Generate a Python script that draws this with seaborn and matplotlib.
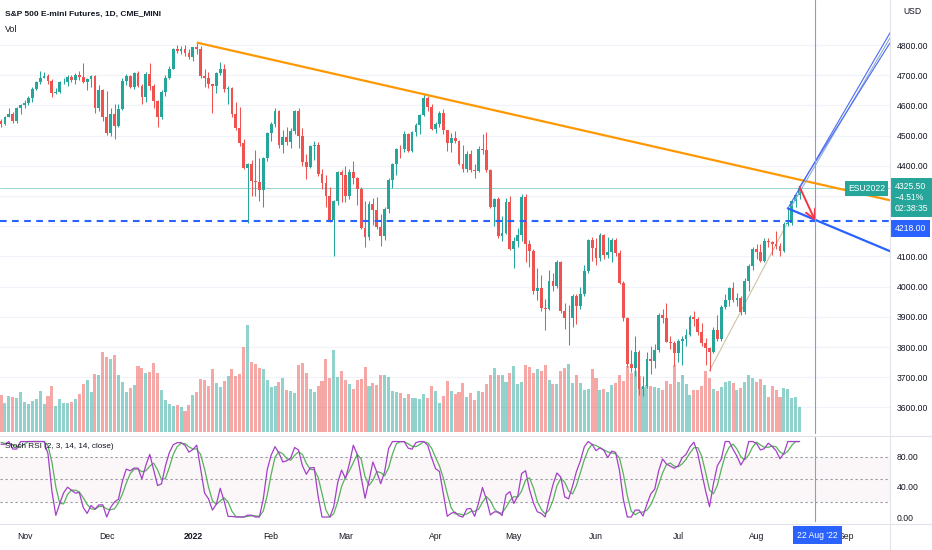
import numpy as np
import pandas as pd
import matplotlib
matplotlib.use("Agg")
import matplotlib.pyplot as plt
import matplotlib.transforms as mtransforms
from matplotlib.lines import Line2D
import seaborn as sns

# ---- data (ES continuous, daily, 22 Oct 2021 - 16 Aug 2022) ----
holidays = ["2021-11-25", "2021-12-24", "2022-01-17", "2022-02-21", "2022-04-15",
            "2022-05-30", "2022-06-20", "2022-07-04", "2022-09-05"]

first_open = 4548

closes = [
    4540, 4562, 4570, 4547, 4592, 4600,
    4608, 4625, 4655, 4676, 4692, 4697, 4680, 4641, 4644, 4677,
    4677, 4695, 4683, 4700, 4693, 4677, 4686, 4697, 4590, 4650,
    4562,
    4508, 4572, 4533, 4587, 4681, 4696, 4662, 4707, 4664, 4629,
    4705, 4664, 4615, 4563, 4644, 4692, 4721, 4786, 4781, 4788,
    4773, 4761,
    4792, 4788, 4696, 4690, 4670, 4665, 4708, 4720, 4655, 4657,
    4570, 4526, 4477, 4393, 4405, 4350, 4345, 4320, 4425, 4510,
    4540, 4583, 4470, 4495, 4478, 4516, 4581, 4498, 4412, 4396,
    4466, 4470, 4374, 4343, 4299, 4220, 4282, 4379, 4368,
    4300, 4381, 4358, 4323, 4195, 4165, 4272, 4254, 4198, 4167,
    4256, 4352, 4405, 4456, 4455, 4505, 4450, 4513, 4536, 4568,
    4625, 4595, 4523,
    4540, 4576, 4518, 4474, 4493, 4481, 4406, 4390, 4440, 4385,
    4384, 4456, 4453, 4387, 4265, 4290, 4168, 4176, 4281, 4126,
    4150, 4170, 4296, 4142, 4118, 3986, 3996, 3930, 3925, 4019,
    4003, 4083, 3918, 3896, 3896, 3969, 3936, 3974, 4053, 4153,
    4127,
    4096, 4172, 4104, 4116, 4156, 4111, 4013, 3896, 3745, 3730,
    3785, 3662, 3670, 3760, 3755, 3791, 3907, 3896, 3817, 3814,
    3780,
    3820, 3828, 3840, 3898, 3894, 3850, 3814, 3797, 3785, 3858,
    3826, 3932, 3955, 3994, 3957, 3962, 3916, 4019, 4068, 4125,
    4114, 4086, 4150, 4147, 4140, 4135, 4117, 4207, 4212, 4283,
    4302, 4325.5,
]

highs = [
    4556, 4566, 4592, 4578, 4594, 4603,
    4618, 4630, 4662, 4682, 4713, 4709, 4705, 4688, 4658, 4681,
    4692, 4701, 4700, 4706, 4714, 4740, 4692, 4700, 4700, 4668,
    4655,
    4648, 4590, 4604, 4605, 4690, 4705, 4702, 4710, 4715, 4670,
    4710, 4740, 4670, 4618, 4650, 4700, 4730, 4790, 4800, 4798,
    4800, 4786,
    4795, 4808, 4796, 4720, 4710, 4672, 4712, 4744, 4737, 4665,
    4662, 4610, 4595, 4488, 4410, 4420, 4451, 4427, 4430, 4512,
    4545, 4592, 4586, 4518, 4530, 4525, 4586, 4590, 4525, 4440,
    4470, 4482, 4478, 4388, 4368, 4330, 4288, 4382, 4385,
    4400, 4390, 4415, 4363, 4330, 4285, 4285, 4295, 4298, 4240,
    4265, 4360, 4408, 4460, 4470, 4515, 4510, 4516, 4542, 4573,
    4637, 4630, 4605,
    4546, 4582, 4587, 4520, 4510, 4515, 4485, 4468, 4450, 4452,
    4405, 4465, 4505, 4512, 4390, 4295, 4298, 4235, 4295, 4300,
    4165, 4195, 4306, 4305, 4155, 4125, 4060, 4040, 3960, 4055,
    4045, 4088, 4085, 3945, 3940, 3975, 3975, 4000, 4070, 4158,
    4165,
    4160, 4178, 4175, 4165, 4162, 4160, 4120, 4020, 3900, 3790,
    3835, 3790, 3705, 3785, 3805, 3810, 3913, 3927, 3945, 3838,
    3820,
    3828, 3835, 3860, 3905, 3920, 3900, 3880, 3830, 3800, 3866,
    3905, 3940, 3975, 3998, 4015, 3978, 3970, 4030, 4075, 4132,
    4140, 4140, 4160, 4160, 4150, 4185, 4145, 4215, 4260, 4285,
    4308, 4330,
]

lows = [
    4527, 4535, 4560, 4543, 4543, 4570,
    4592, 4600, 4612, 4650, 4672, 4690, 4672, 4628, 4637, 4640,
    4670, 4665, 4678, 4670, 4685, 4673, 4650, 4660, 4575, 4580,
    4550,
    4502, 4498, 4490, 4530, 4585, 4666, 4658, 4655, 4660, 4605,
    4612, 4650, 4590, 4530, 4555, 4630, 4688, 4720, 4775, 4770,
    4765, 4752,
    4748, 4770, 4690, 4660, 4656, 4575, 4640, 4700, 4645, 4605,
    4560, 4520, 4465, 4390, 4212, 4300, 4300, 4282, 4262, 4415,
    4482, 4530, 4460, 4442, 4468, 4458, 4505, 4460, 4400, 4355,
    4392, 4420, 4365, 4322, 4265, 4215, 4101, 4270, 4280,
    4280, 4290, 4340, 4270, 4190, 4130, 4155, 4205, 4190, 4135,
    4155, 4245, 4328, 4370, 4425, 4445, 4445, 4445, 4500, 4505,
    4565, 4580, 4520,
    4508, 4530, 4505, 4448, 4445, 4475, 4402, 4380, 4380, 4380,
    4360, 4380, 4440, 4380, 4260, 4200, 4162, 4150, 4175, 4120,
    4060, 4130, 4150, 4080, 4065, 3975, 3955, 3920, 3855, 3922,
    3985, 3995, 3912, 3860, 3807, 3865, 3875, 3925, 3970, 4045,
    4085,
    4073, 4085, 4090, 4095, 4080, 4100, 4010, 3885, 3735, 3718,
    3705, 3642, 3639, 3665, 3710, 3732, 3785, 3880, 3815, 3795,
    3738,
    3752, 3740, 3805, 3835, 3870, 3840, 3805, 3742, 3722, 3780,
    3820, 3820, 3925, 3935, 3950, 3935, 3905, 3910, 3985, 4055,
    4092, 4080, 4080, 4130, 4105, 4125, 4100, 4115, 4202, 4205,
    4265, 4290,
]

# volume, tens of thousands of contracts
volume = [
    113, 88, 108, 107, 102, 122, 91, 84, 93, 99,
    123, 86, 110, 138, 79, 99, 89, 89, 91, 99,
    116, 144, 158, 120, 176, 171, 241, 226, 219, 232,
    171, 150, 121, 134, 141, 200, 193, 178, 182, 208,
    178, 128, 96, 84, 78, 82, 76, 65, 82, 113,
    120, 159, 158, 138, 189, 148, 135, 155, 170, 191,
    169, 174, 255, 323, 210, 204, 194, 191, 156, 137,
    138, 151, 164, 128, 123, 118, 203, 209, 179, 130,
    122, 138, 154, 219, 163, 247, 165, 185, 158, 145,
    131, 156, 161, 197, 140, 148, 143, 173, 173, 167,
    123, 120,
    117, 104, 115, 104, 104, 101, 115, 103, 140, 123,
    89, 110, 153, 123, 116, 122, 148, 106, 119, 97,
    125, 122, 145, 173, 192, 171, 171, 152, 179, 200,
    146, 152, 202, 197, 179, 190, 183, 202, 158, 144,
    146, 185, 194, 204, 148, 172, 147, 128, 131, 189,
    162, 128, 129, 122, 143, 147, 171, 155, 199, 178,
    185, 170, 135, 141, 139, 136, 133, 128, 153, 145,
    202, 150, 172, 145, 113, 126, 126, 138, 183, 162,
    130, 123, 137, 150, 154, 148, 128, 134, 150, 171,
    163, 150, 160, 143, 106, 140, 126, 107, 132, 131,
    103, 107, 77,
]

# closes before the visible window, only used to warm up the Stoch RSI
warmup_close = [4524, 4537, 4535, 4520, 4514, 4493, 4459, 4468, 4443, 4480,
                4473, 4433, 4358, 4354, 4395, 4448, 4455, 4443, 4352, 4359,
                4307, 4357, 4300, 4345, 4363, 4399, 4391, 4361, 4350, 4363,
                4438, 4471, 4486, 4519, 4536, 4549]

# drawings on the chart: (date, price) anchors
orange_trend = [("2022-01-04", 4808), ("2022-03-29", 4637)]
blue_ray = [("2022-08-11", 4259), ("2022-08-22", 4221)]
channel = [[("2022-08-11", 4259), ("2022-09-19", 4838)],
           [("2022-08-12", 4268), ("2022-09-19", 4821)],
           [("2022-08-16", 4330), ("2022-09-19", 4805)]]
support_line = [("2022-07-14", 3722), ("2022-08-11", 4214)]
red_arrow = [("2022-08-16", 4330), ("2022-08-22", 4218)]
level_price = 4218
cursor_date = "2022-08-22"

month_labels = ["Nov", "Dec", "2022", "Feb", "Mar", "Apr", "May", "Jun", "Jul", "Aug", "Sep"]
month_starts = ["2021-11-01", "2021-12-01", "2022-01-01", "2022-02-01", "2022-03-01", "2022-04-01",
                "2022-05-01", "2022-06-01", "2022-07-01", "2022-08-01", "2022-09-01"]

UP, DOWN = "#26a69a", "#ef5350"
TEXT = "#131722"
FS = 6.2

# ---- trading-day index ----
days = pd.bdate_range("2021-10-22", "2022-10-31")
days = days[~days.isin(pd.to_datetime(holidays))]
n = len(closes)
x = np.arange(n)


def pos(d):
    return int(np.searchsorted(days, pd.Timestamp(d)))


c = np.array(closes, dtype=float)
o = np.r_[first_open, c[:-1]]
h = np.maximum(np.array(highs, dtype=float), np.maximum(o, c))
l = np.minimum(np.array(lows, dtype=float), np.minimum(o, c))
up = c >= o


def stoch_rsi(close, k_len=2, d_len=3, rsi_len=14, st_len=14):
    s = pd.Series(close, dtype=float)
    delta = s.diff()
    gain = delta.clip(lower=0).ewm(alpha=1 / rsi_len, adjust=False).mean()
    loss = (-delta.clip(upper=0)).ewm(alpha=1 / rsi_len, adjust=False).mean()
    rsi = 100 - 100 / (1 + gain / loss)
    lo = rsi.rolling(st_len).min()
    hi = rsi.rolling(st_len).max()
    st = (rsi - lo) / (hi - lo) * 100
    k = st.rolling(k_len).mean()
    d = k.rolling(d_len).mean()
    return k.values, d.values


k_all, d_all = stoch_rsi(warmup_close + closes)
k_line, d_line = k_all[-n:], d_all[-n:]

# ---- figure ----
sns.set_theme(style="white")
plt.rcParams["font.family"] = ["Liberation Sans", "DejaVu Sans"]

W, H = 932, 550
fig = plt.figure(figsize=(W / 100, H / 100), dpi=100)
fig.patch.set_facecolor("white")
ax = fig.add_axes([0, (H - 434) / H, 890 / W, 434 / H])
axs = fig.add_axes([0, (H - 522) / H, 890 / W, 85 / H])

xmin, xmax = -0.26, 227.1
for a in (ax, axs):
    a.set_xlim(xmin, xmax)
    a.set_facecolor("none")
    for sp in a.spines.values():
        sp.set_visible(False)
ax.set_ylim(3512, 4949)
axs.set_ylim(-6.6, 106)

# grid
for p in range(3600, 4900, 100):
    ax.axhline(p, color="#f0f3fa", lw=0.9, zorder=0)

# volume overlay in the bottom of the price pane
vol_tr = mtransforms.blended_transform_factory(ax.transData, ax.transAxes)
vol_frac = np.array(volume) / 1302.0
ax.bar(x, vol_frac, width=0.78, bottom=0.004, transform=vol_tr,
       color=np.where(up, UP, DOWN), alpha=0.5, lw=0, zorder=1)

# candles
cols = np.where(up, UP, DOWN)
ax.vlines(x, l, h, colors=cols, lw=0.75, zorder=3)
body = np.maximum(np.abs(c - o), 1.5)
ax.bar(x, body, bottom=np.minimum(o, c), width=0.72, color=cols, lw=0, zorder=3)

# last price line
ax.axhline(c[-1], color=UP, lw=0.6, alpha=0.55, zorder=2)


def ray(p0, p1, extend=True):
    x0, y0 = pos(p0[0]), p0[1]
    x1, y1 = pos(p1[0]), p1[1]
    if extend:
        slope = (y1 - y0) / (x1 - x0)
        x1, y1 = xmax, y0 + slope * (xmax - x0)
    return [x0, x1], [y0, y1]


xs, ys = ray(*orange_trend)
ax.plot(xs, ys, color="#ff9800", lw=1.6, zorder=4, solid_capstyle="butt")
xs, ys = ray(*blue_ray)
ax.plot(xs, ys, color="#2962ff", lw=1.6, zorder=4)
for i, seg in enumerate(channel):
    xs, ys = ray(*seg)
    ax.plot(xs, ys, color="#8fa9d8" if i == 1 else "#4a6cf0", lw=0.8, zorder=4)
xs, ys = ray(*support_line, extend=False)
ax.plot(xs, ys, color="#cfc3a3", lw=0.8, zorder=2)

ax.axhline(level_price, color="#2962ff", lw=1.5, ls=(0, (3.2, 2.6)), zorder=4)

(a0, p0), (a1, p1) = red_arrow
ax.annotate("", xy=(pos(a1), p1), xytext=(pos(a0), p0),
            arrowprops=dict(arrowstyle="->,head_length=0.55,head_width=0.3",
                            color="#f23645", lw=1.4, shrinkA=0, shrinkB=0), zorder=5)

cx = pos(cursor_date)
ax.axvline(cx, color="#7d9bff", lw=0.8, zorder=6)
axs.axvline(cx, color="#7d9bff", lw=0.8, zorder=6)

# price axis
ticks = list(range(3600, 4900, 100))
ax.yaxis.tick_right()
ax.set_yticks(ticks)
ax.set_yticklabels(["" if t in (4200, 4300) else f"{t:.2f}" for t in ticks])
ax.tick_params(axis="y", length=0, pad=5, labelsize=FS, labelcolor=TEXT)
ax.set_xticks([])

ax.annotate("ESU2022", xy=(1, c[-1]), xycoords=("axes fraction", "data"),
            xytext=(-5, 0), textcoords="offset pixels", ha="right", va="center",
            fontsize=FS, color="white", annotation_clip=False, zorder=10,
            bbox=dict(boxstyle="square,pad=0.35", fc=UP, ec="none"))
ax.annotate(f"{c[-1]:.2f}\n\u22124.51%\n02:38:35", xy=(1, c[-1]),
            xycoords=("axes fraction", "data"), xytext=(5, -9), textcoords="offset pixels",
            ha="left", va="center", fontsize=FS, color="white", linespacing=1.3,
            annotation_clip=False, zorder=10,
            bbox=dict(boxstyle="square,pad=0.45", fc=UP, ec="none"))
ax.annotate(f"{level_price:.2f}", xy=(1, level_price), xycoords=("axes fraction", "data"),
            xytext=(5, -8), textcoords="offset pixels", ha="left", va="center",
            fontsize=FS, color="white", annotation_clip=False, zorder=10,
            bbox=dict(boxstyle="square,pad=0.45", fc="#2962ff", ec="none"))

# stoch rsi pane
axs.axhspan(20, 80, color="#f7e9ec", alpha=0.4, lw=0, zorder=0)
for lvl in (80, 50, 20):
    axs.axhline(lvl, color="#9598a1", lw=0.8, ls=(0, (2, 2.5)), zorder=1)
sns.lineplot(x=x, y=k_line, ax=axs, color="#a43fc8", lw=0.9, zorder=3)
sns.lineplot(x=x, y=d_line, ax=axs, color="#57b25c", lw=0.9, zorder=2)
axs.set_ylabel("")
axs.yaxis.tick_right()
axs.set_yticks([0, 40, 80])
axs.set_yticklabels(["0.00", "40.00", "80.00"])
axs.tick_params(axis="y", length=0, pad=5, labelsize=FS, labelcolor=TEXT)

# time axis
axs.set_xticks([pos(d) for d in month_starts])
axs.set_xticklabels(month_labels)
axs.tick_params(axis="x", length=0, pad=7, labelsize=FS, labelcolor=TEXT)
for t in axs.get_xticklabels():
    if t.get_text() == "2022":
        t.set_fontweight("bold")
axs.annotate("22 Aug '22", xy=(cx, 0), xycoords=("data", "axes fraction"),
             xytext=(2, -13), textcoords="offset pixels", ha="center", va="center",
             fontsize=FS, color="white", annotation_clip=False, zorder=10,
             bbox=dict(boxstyle="square,pad=0.5", fc="#2962ff", ec="none"))

# pane borders and legends
fig.add_artist(Line2D([890 / W] * 2, [0, 1], color="#e0e3eb", lw=0.8))
fig.add_artist(Line2D([0, 1], [(H - 435.5) / H] * 2, color="#e0e3eb", lw=0.8))
fig.add_artist(Line2D([0, 1], [(H - 524) / H] * 2, color="#e0e3eb", lw=0.8))
fig.text(5 / W, 1 - 14 / H, "S&P 500 E-mini Futures, 1D, CME_MINI", fontsize=6.0,
         fontweight="bold", color=TEXT, va="center")
fig.text(5 / W, 1 - 30 / H, "Vol", fontsize=6.4, color=TEXT, va="center")
fig.text(5 / W, 1 - 447 / H, "Stoch RSI (2, 3, 14, 14, close)", fontsize=5.9,
         color=TEXT, va="center")
fig.text(903 / W, 1 - 12 / H, "USD", fontsize=FS, color=TEXT, va="center")

fig.savefig("out.png", dpi=100, facecolor="white")
